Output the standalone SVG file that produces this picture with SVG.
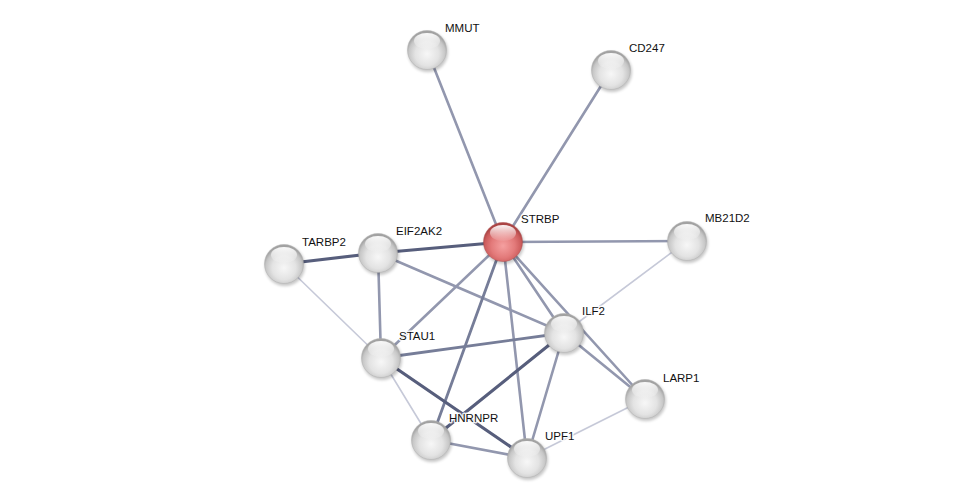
<svg xmlns="http://www.w3.org/2000/svg" width="975" height="503" viewBox="0 0 975 503">
<style>
.e{fill:none;stroke-linecap:round}
.d{stroke:#575e7c;stroke-width:3.2}
.m{stroke:#9297ae;stroke-width:2.6}
.md{stroke:#767d98;stroke-width:2.8}
.l{stroke:#c6c9d8;stroke-width:1.6}
.lab{font-family:"Liberation Sans",Arial,sans-serif;font-size:11.5px;fill:#111;stroke:#fff;stroke-width:3;stroke-opacity:0.85;paint-order:stroke;stroke-linejoin:round}
.n{fill:url(#gg);stroke:#b0b0b0;stroke-width:0.5}
.r{fill:url(#gr);stroke:#b05050;stroke-width:0.5}
.h{fill:url(#hl)}
.s{fill:#000;opacity:0.22;filter:url(#bl)}
</style>
<defs>
<radialGradient id="gg" cx="0.5" cy="0.6" r="0.55">
<stop offset="0" stop-color="#f7f7f7"/>
<stop offset="0.55" stop-color="#e3e3e3"/>
<stop offset="0.85" stop-color="#c6c6c6"/>
<stop offset="1" stop-color="#a2a2a2"/>
</radialGradient>
<radialGradient id="gr" cx="0.5" cy="0.6" r="0.55">
<stop offset="0" stop-color="#f5a0a0"/>
<stop offset="0.55" stop-color="#e37a7a"/>
<stop offset="0.85" stop-color="#cc5c5c"/>
<stop offset="1" stop-color="#aa4444"/>
</radialGradient>
<linearGradient id="hl" x1="0" y1="0" x2="0" y2="1">
<stop offset="0" stop-color="#fff" stop-opacity="0.95"/>
<stop offset="1" stop-color="#fff" stop-opacity="0.05"/>
</linearGradient>
<filter id="bl" x="-30%" y="-30%" width="160%" height="160%"><feGaussianBlur stdDeviation="1.5"/></filter>
</defs>
<rect width="975" height="503" fill="#fff"/>
<g id="edges">
<line class="e l" x1="284" y1="264" x2="381" y2="358"/>
<line class="e l" x1="687" y1="241" x2="564" y2="333"/>
<line class="e l" x1="381" y1="358" x2="431" y2="440"/>
<line class="e l" x1="527" y1="458" x2="645" y2="399"/>
<line class="e m" x1="427" y1="50" x2="503" y2="242"/>
<line class="e m" x1="611" y1="70" x2="503" y2="242"/>
<line class="e m" x1="687" y1="241" x2="503" y2="242"/>
<line class="e m" x1="378" y1="253" x2="381" y2="358"/>
<line class="e m" x1="378" y1="253" x2="564" y2="333"/>
<line class="e m" x1="503" y1="242" x2="381" y2="358"/>
<line class="e m" x1="503" y1="242" x2="564" y2="333"/>
<line class="e md" x1="503" y1="242" x2="431" y2="440"/>
<line class="e m" x1="503" y1="242" x2="527" y2="458"/>
<line class="e m" x1="503" y1="242" x2="645" y2="399"/>
<line class="e m" x1="564" y1="333" x2="645" y2="399"/>
<line class="e md" x1="564" y1="333" x2="381" y2="358"/>
<line class="e m" x1="564" y1="333" x2="527" y2="458"/>
<line class="e m" x1="431" y1="440" x2="527" y2="458"/>
<line class="e d" x1="284" y1="264" x2="378" y2="253"/>
<line class="e d" x1="378" y1="253" x2="503" y2="242"/>
<line class="e d" x1="564" y1="333" x2="431" y2="440"/>
<line class="e d" x1="381" y1="358" x2="527" y2="458"/>
</g>
<g id="MMUT"><ellipse class="s" cx="428" cy="52" rx="20" ry="20"/><circle class="n" cx="427" cy="50" r="19.5"/><ellipse class="h" cx="427" cy="41" rx="13" ry="8"/><text class="lab" x="445" y="32">MMUT</text></g>
<g id="CD247"><ellipse class="s" cx="612" cy="72" rx="20" ry="20"/><circle class="n" cx="611" cy="70" r="19.5"/><ellipse class="h" cx="611" cy="61" rx="13" ry="8"/><text class="lab" x="629" y="52">CD247</text></g>
<g id="STRBP"><ellipse class="s" cx="504" cy="244" rx="20" ry="20"/><circle class="r" cx="503" cy="242" r="19.5"/><ellipse class="h" cx="503" cy="233" rx="13" ry="8"/><text class="lab" x="521" y="223">STRBP</text></g>
<g id="MB21D2"><ellipse class="s" cx="688" cy="243" rx="20" ry="20"/><circle class="n" cx="687" cy="241" r="19.5"/><ellipse class="h" cx="687" cy="232" rx="13" ry="8"/><text class="lab" x="705" y="222">MB21D2</text></g>
<g id="TARBP2"><ellipse class="s" cx="285" cy="266" rx="20" ry="20"/><circle class="n" cx="284" cy="264" r="19.5"/><ellipse class="h" cx="284" cy="255" rx="13" ry="8"/><text class="lab" x="302" y="246">TARBP2</text></g>
<g id="EIF2AK2"><ellipse class="s" cx="379" cy="255" rx="20" ry="20"/><circle class="n" cx="378" cy="253" r="19.5"/><ellipse class="h" cx="378" cy="244" rx="13" ry="8"/><text class="lab" x="396" y="235">EIF2AK2</text></g>
<g id="ILF2"><ellipse class="s" cx="565" cy="335" rx="20" ry="20"/><circle class="n" cx="564" cy="333" r="19.5"/><ellipse class="h" cx="564" cy="324" rx="13" ry="8"/><text class="lab" x="582" y="315">ILF2</text></g>
<g id="STAU1"><ellipse class="s" cx="382" cy="360" rx="20" ry="20"/><circle class="n" cx="381" cy="358" r="19.5"/><ellipse class="h" cx="381" cy="349" rx="13" ry="8"/><text class="lab" x="399" y="340">STAU1</text></g>
<g id="LARP1"><ellipse class="s" cx="646" cy="401" rx="20" ry="20"/><circle class="n" cx="645" cy="399" r="19.5"/><ellipse class="h" cx="645" cy="390" rx="13" ry="8"/><text class="lab" x="663" y="382">LARP1</text></g>
<g id="HNRNPR"><ellipse class="s" cx="432" cy="442" rx="20" ry="20"/><circle class="n" cx="431" cy="440" r="19.5"/><ellipse class="h" cx="431" cy="431" rx="13" ry="8"/><text class="lab" x="449" y="422">HNRNPR</text></g>
<g id="UPF1"><ellipse class="s" cx="528" cy="460" rx="20" ry="20"/><circle class="n" cx="527" cy="458" r="19.5"/><ellipse class="h" cx="527" cy="449" rx="13" ry="8"/><text class="lab" x="545" y="440">UPF1</text></g>
</svg>
